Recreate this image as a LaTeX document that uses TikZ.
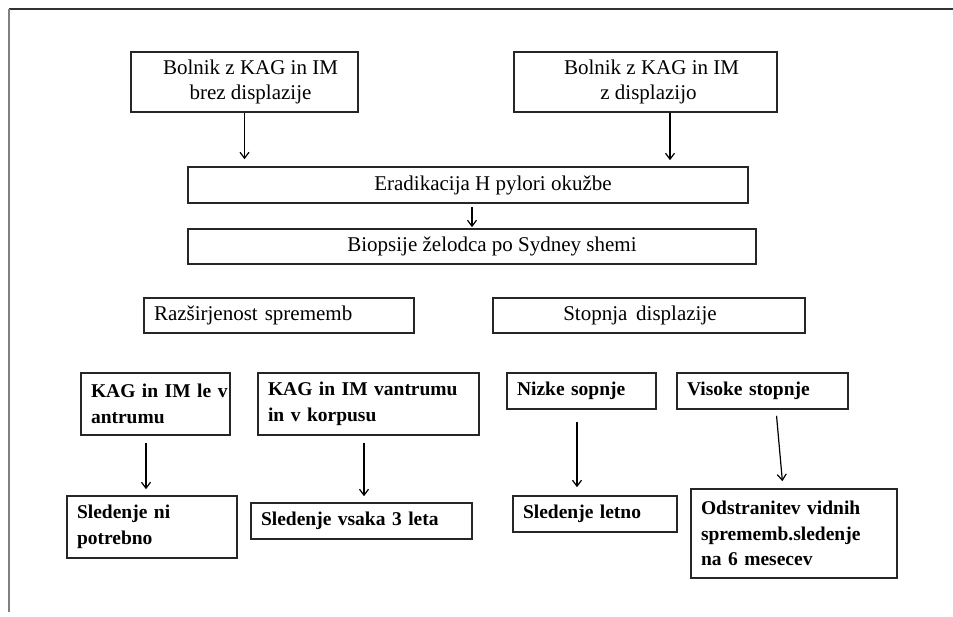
\documentclass[tikz,border=0pt]{standalone}
\usepackage{fontspec}
\setmainfont{Liberation Serif}
\usetikzlibrary{arrows.meta}
\newcommand\toptext{\fontsize{21}{25}\selectfont}
\newcommand\lowtext{\fontsize{19.5}{25.5}\selectfont\bfseries}
\begin{document}
\begin{tikzpicture}[x=1pt, y=-1pt,
  edge/.style={line width=1.5pt},
  tbox/.style={draw=black!85, line width=1.6pt, font=\toptext, align=center, inner sep=0pt},
  lbox/.style={draw=black!85, line width=1.6pt, font=\lowtext, align=left,
               inner xsep=10pt, inner ysep=0pt, text width=#1},
  arr/.style={-{Straight Barb[length=6pt,width=9pt]}, line width=1.2pt}]
\useasboundingbox (0,0) rectangle (953,617);
% page frame: top rule and left rule
\coordinate (fc) at (9,9);
\draw[edge, draw=black!80] (fc) -- (953,9);
\draw[edge, draw=black!50] (fc) -- (9,612);

% patient groups
\node[tbox, minimum width=227pt, minimum height=60pt] (b1) at (244.5,82)
  {\hspace*{12pt}Bolnik z KAG in IM\\\hspace*{12pt}brez displazije};
\node[tbox, minimum width=263pt, minimum height=60pt] (b2) at (645.5,82)
  {\hspace*{12pt}Bolnik z KAG in IM\\\hspace*{6pt}z displazijo};

% common steps
\node[tbox, minimum width=560pt, minimum height=36pt] (b3) at (468,185)
  {\hspace*{50pt}Eradikacija H pylori okužbe};
\node[tbox, minimum width=568pt, minimum height=35pt] (b4) at (472,246.5)
  {\hspace*{40pt}Biopsije želodca po Sydney shemi};

% assessment criteria
\node[tbox, minimum width=270pt, minimum height=35pt, align=left, text width=250pt,
      inner xsep=10pt] (b5) at (279,315.5) {Razširjenost sprememb};
\node[tbox, minimum width=312pt, minimum height=35pt] (b6) at (649,315.5)
  {Stopnja\, displazije\hspace*{18pt}};

% extent of changes
\node[lbox=129pt, minimum height=62pt] (b7) at (155.5,404)
  {\mbox{KAG in IM le v}\\antrumu};
\node[lbox=201pt, minimum height=62pt] (b8) at (368.5,404)
  {\mbox{KAG in IM vantrumu}\\in v korpusu};
\node[lbox=150pt, minimum height=62pt] (b9) at (152,527)
  {Sledenje ni\\potrebno};
\node[lbox=201pt, minimum height=36pt] (b10) at (361.5,521)
  {\mbox{Sledenje vsaka 3 leta}};

% grade of dysplasia
\node[lbox=129pt, minimum height=36pt] (b11) at (581.5,391)
  {Nizke sopnje};
\node[lbox=151pt, minimum height=36pt] (b12) at (762.5,391)
  {Visoke stopnje};
\node[lbox=144pt, minimum height=36pt] (b13) at (595,514)
  {Sledenje letno};
\node[lbox=186pt, minimum height=89pt] (b14) at (794,533.5)
  {\mbox{Odstranitev vidnih}\\\mbox{sprememb.sledenje}\\na 6 mesecev};

% connectors
\draw[arr, shorten >=7pt] (b1.south) -- (b1.south |- b3.north);
\draw[arr, shorten >=6pt] ([xshift=24.5pt]b2.south) -- ([xshift=24.5pt]b2.south |- b3.north);
\draw[arr, shorten <=3pt, shorten >=1pt] ([xshift=4pt]b3.south) -- ([xshift=4pt]b3.south |- b4.north);
\draw[arr, shorten <=7pt, shorten >=6pt] ([xshift=-9.5pt]b7.south) -- ([xshift=-9.5pt]b7.south |- b9.north);
\draw[arr, shorten <=7pt, shorten >=6pt] ([xshift=-4.5pt]b8.south) -- ([xshift=-4.5pt]b8.south |- b10.north);
\draw[arr, shorten <=12pt, shorten >=8pt] ([xshift=-4.5pt]b11.south) -- ([xshift=-4.5pt]b11.south |- b13.north);
\draw[arr, shorten <=6pt, shorten >=7pt] ([xshift=13.5pt]b12.south) -- ([xshift=-11pt]b14.north);
\end{tikzpicture}
\end{document}
